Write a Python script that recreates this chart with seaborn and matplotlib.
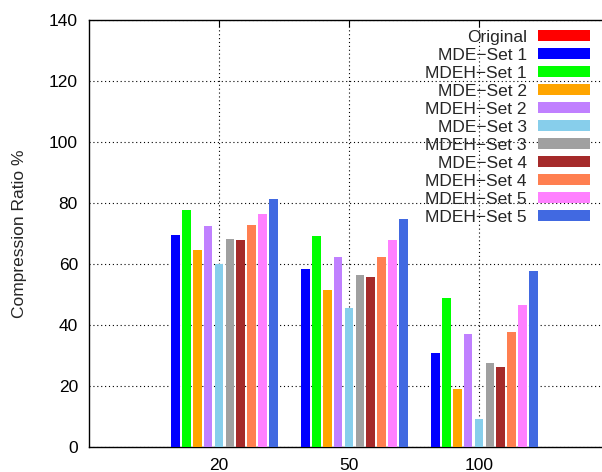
import matplotlib
matplotlib.use("Agg")
import matplotlib.pyplot as plt
from matplotlib.patches import Patch
import seaborn as sns
import pandas as pd

# Group labels on the x axis
groups = ["20", "50", "100"]

# Legend labels, in drawing order
series_labels = [
    "Original", "MDE\u2212Set 1", "MDEH\u2212Set 1", "MDE\u2212Set 2", "MDEH\u2212Set 2",
    "MDE\u2212Set 3", "MDEH\u2212Set 3", "MDE\u2212Set 4", "MDEH\u2212Set 4",
    "MDEH\u2212Set 5", "MDEH\u2212Set 5",
]

# Compression ratio (%) per series, one value per group
original   = [0.0, 0.0, 0.0]
mde_set1   = [69.6, 58.3, 30.6]
mdeh_set1  = [77.5, 69.1, 48.7]
mde_set2   = [64.5, 51.3, 19.0]
mdeh_set2  = [72.4, 62.2, 37.1]
mde_set3   = [60.1, 45.4, 9.1]
mdeh_set3  = [68.1, 56.3, 27.4]
mde_set4   = [67.7, 55.6, 26.3]
mdeh_set4  = [72.6, 62.4, 37.6]
mdeh_set5a = [76.5, 67.7, 46.4]
mdeh_set5b = [81.3, 74.6, 57.5]

series_values = [original, mde_set1, mdeh_set1, mde_set2, mdeh_set2, mde_set3,
                 mdeh_set3, mde_set4, mdeh_set4, mdeh_set5a, mdeh_set5b]

colors = ["#ff0000", "#0000ff", "#00ff00", "#ffa500", "#c080ff", "#87ceeb",
          "#a0a0a0", "#a52a2a", "#ff7f50", "#ff80ff", "#4169e1"]

yticks = [0, 20, 40, 60, 80, 100, 120, 140]

# Long-form table; hue keys are indexed because two labels repeat
keys = [f"{i}" for i in range(len(series_labels))]
rows = []
for key, vals in zip(keys, series_values):
    for g, v in zip(groups, vals):
        rows.append({"group": g, "series": key, "value": v})
df = pd.DataFrame(rows)

sns.set_style("white")
plt.rcParams["font.family"] = ["Liberation Sans", "DejaVu Sans"]
FS = 12.5
plt.rcParams["font.size"] = FS

fig = plt.figure(figsize=(6.02, 4.72), dpi=100)
ax = fig.add_axes([89 / 602, 1 - 446.7 / 472, 520 / 602, (446.7 - 20) / 472])

sns.barplot(data=df, x="group", y="value", hue="series", order=groups,
            hue_order=keys, palette=dict(zip(keys, colors)), width=0.922,
            gap=0.2, linewidth=0, saturation=1, legend=False, ax=ax, zorder=3)

ax.set_xlim(-1, 3)
ax.set_ylim(0, 140)
ax.set_yticks(yticks)
ax.set_yticklabels([str(t) for t in yticks])
ax.set_xlabel("")
ax.set_ylabel("Compression Ratio %", fontsize=FS, labelpad=16)

ax.grid(True, axis="both", color="black", linestyle=(0, (1, 2.5)), linewidth=0.8, zorder=0)
ax.set_axisbelow(True)
for s in ax.spines.values():
    s.set_color("black")
    s.set_linewidth(1.0)
ax.tick_params(axis="both", direction="in", length=5, width=0.8, colors="black",
               labelsize=FS, top=True, right=True)
ax.tick_params(axis="y", pad=8)
ax.tick_params(axis="x", pad=8)

handles = [Patch(facecolor=c, edgecolor="none") for c in colors]
fig.legend(handles, series_labels, loc="upper right",
           bbox_to_anchor=(590 / 602, 1 - 30 / 472), frameon=False,
           markerfirst=False, borderpad=0, borderaxespad=0, fontsize=FS,
           handlelength=3.0, handleheight=0.58, labelspacing=0.17, handletextpad=0.63)

fig.savefig("out.png", dpi=100)
